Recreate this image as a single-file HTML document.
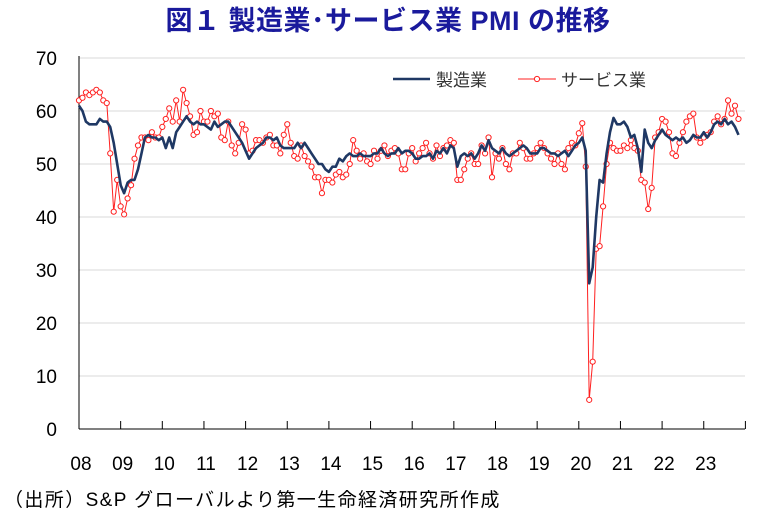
<!DOCTYPE html>
<html><head><meta charset="utf-8"><style>
body{margin:0;background:#fff;width:780px;height:519px;overflow:hidden}
svg{display:block}
text{font-family:"Liberation Sans","Noto Sans CJK JP",sans-serif}
</style></head><body>
<svg id="s" width="780" height="519" xmlns="http://www.w3.org/2000/svg">
<text x="388" y="30" text-anchor="middle" font-size="27" font-weight="bold" fill="#1a1a9c" letter-spacing="0.5">図１ 製造業･サービス業 PMI の推移</text>
<g id="grid"></g>
<line x1="79" y1="56" x2="79" y2="429" stroke="#000" stroke-width="1"/>
<line x1="79" y1="429" x2="745" y2="429" stroke="#000" stroke-width="1"/>
<g id="lbl" font-size="19" fill="#000"></g>
<line x1="393" y1="79" x2="430" y2="79" stroke="#1f3864" stroke-width="2.5"/>
<text x="436" y="86" font-size="17" fill="#333">製造業</text>
<line x1="518" y1="79" x2="556" y2="79" stroke="#ff2020" stroke-width="1"/>
<circle cx="537" cy="79" r="2.6" fill="#fff" stroke="#ff2020" stroke-width="1"/>
<text x="561" y="86" font-size="17" fill="#333">サービス業</text>
<g id="ser"></g>
<path id="mfg" fill="none" stroke="#1f3864" stroke-width="2.6" stroke-linejoin="round"/>
<text x="4" y="506" font-size="19" fill="#000" letter-spacing="1.4">（出所）S&amp;P グローバルより第一生命経済研究所作成</text>
</svg>
<script>
var M=[61,60,58,57.5,57.5,57.5,58.5,58,58,57,54,50,
46,44.5,46.5,47,47,49,52,55,55.5,55,55,54.5,
55,53,55,53,56,57,58,59,58,57.5,58,57.5,
57.5,57,56.5,58,57,57.5,58,58,57,56,55,54,
52.5,51,52,53,53.5,54,55,55,54.5,55,53.5,53,
53,53,53,54,53,54,53,52,51,50,50,49,
48.5,49.5,49.5,51,50.5,51.5,52,51.5,51.5,52,51.5,51.5,
51.5,52,52,53,52,51.5,52,52,53,52,52.5,52.5,
52,51,51,51.5,51.5,52,51,52.5,52,53,52,53.5,
53,49.5,51.5,52,51.5,52,51,52,53.5,52.5,54.5,53,
52.5,52,53,52,51.5,52,52.5,53,53.5,53,52,52,
52,53,53,52.5,52,52,51.5,52,52.5,51.5,52.5,53.5,
54,55,52.5,27.5,30.5,40,47,46.5,52,56,58.7,57.5,
57.5,58,57,55,55.5,53,48.5,56.5,54,53,54.5,55.5,
56.5,55.5,55,54.5,55,54.5,55,54,54.5,55.5,55,55,
56,55,56,57.5,58,57.5,58.5,57.5,58,57,55.5,56];
var S=[62,62.5,63.5,63,63.5,64,63.5,62,61.5,52,41,47,
42,40.5,43.5,46,51,53.5,55,55,54.5,56,55,55,
57,58.5,60.5,58,62,58,64,61.5,59,55.5,56,60,
58,58,60,59,59.5,55,54.5,58,53.5,52,54,57.5,
56.5,52,52.5,54.5,54.5,54,55,55.5,53.5,53.5,52,55.5,
57.5,54,51.5,51,53.5,51.5,50.5,49.5,47.5,47.5,44.5,47,
47,46.5,48,48.5,47.5,48,50,54.5,52.5,51,52,50.5,
50,52.5,51,52.5,53.5,51.5,52.5,53,52,49,49,52,
53,50.5,52,53,54,52,51,53.5,51.5,53,53.5,54.5,
54,47,47,49,51,52,50,50,53.5,52,55,47.5,
52,51,53,50,49,52,52,54,53,51,51,52,
53,54,53,52,51,50,52,50,49,53,54,53.5,
55.8,57.7,49.5,5.5,12.7,34,34.5,42,50,54,53,52.5,
52.5,53.5,53,54.5,53,52.5,47,46.5,41.5,45.5,55,56,
58.5,58,56,52,51.5,54,56,58,59,59.5,55,54,
55,55.5,56,58,59,57.5,58.5,62,61,60,62,59.5,61,58.5];
var N=191;
M=M.slice(0,N);
var SS=[];for(var i=0;i<N;i++)SS.push(S[i]);
SS[N-4]=62;SS[N-3]=59.5;SS[N-2]=61;SS[N-1]=58.5;
S=SS;
function X(i){return 79+i*41.65/12;}
function Y(v){return 429-5.3*v;}
var ns="http://www.w3.org/2000/svg";
function el(t,a,p){var e=document.createElementNS(ns,t);for(var k in a)e.setAttribute(k,a[k]);p.appendChild(e);return e;}
var g=document.getElementById('grid'),l=document.getElementById('lbl');
for(var v=0;v<=70;v+=10){if(v>0)el('line',{x1:79,x2:745,y1:Y(v),y2:Y(v),stroke:'#d9d9d9','stroke-width':1},g);
var t=el('text',{x:57,y:Y(v)+7,'text-anchor':'end'},l);t.textContent=v;}
for(var k=0;k<=16;k++){var x=79+k*41.65;el('line',{x1:x,x2:x,y1:421,y2:429,stroke:'#000','stroke-width':1},g);
if(k<16){var t=el('text',{x:x+2,y:470,'text-anchor':'middle'},l);t.textContent=(k<2?'0':'')+(8+k);}}
var d='';for(var i=0;i<N;i++)d+=(i?'L':'M')+X(i).toFixed(1)+' '+Y(M[i]).toFixed(1);
document.getElementById('mfg').setAttribute('d',d);
var sg=document.getElementById('ser'),p='';
for(var i=0;i<N;i++)p+=X(i).toFixed(1)+','+Y(S[i]).toFixed(1)+' ';
el('polyline',{points:p,fill:'none',stroke:'#ff2020','stroke-width':1},sg);
for(var i=0;i<N;i++)el('circle',{cx:X(i),cy:Y(S[i]),r:2.6,fill:'#fff',stroke:'#ff2020','stroke-width':1},sg);
</script>
</body></html>
